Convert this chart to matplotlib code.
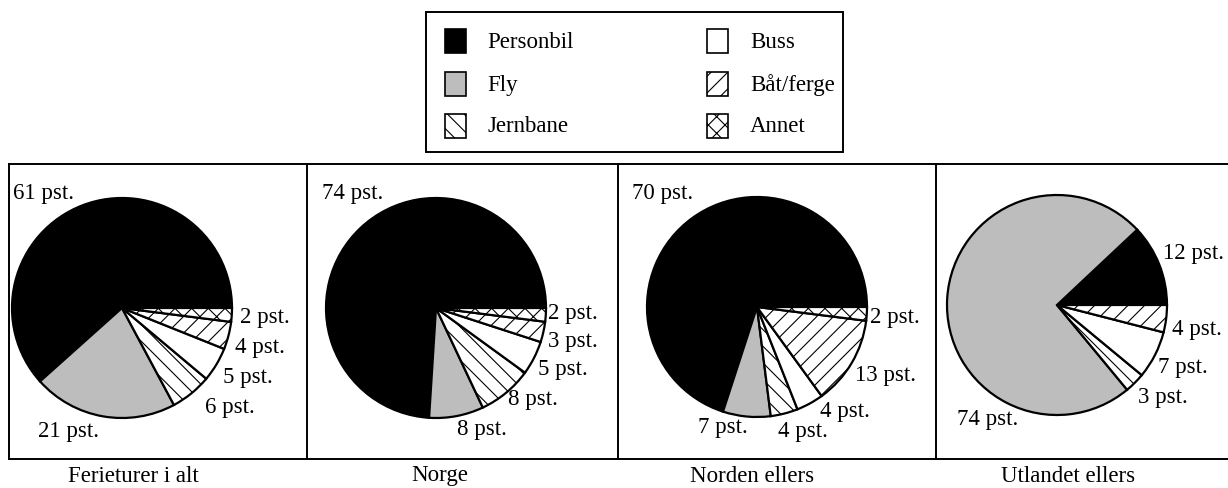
import matplotlib
matplotlib.use("Agg")
import matplotlib.pyplot as plt
from matplotlib.patches import Rectangle

# ---- data ----
categories = ['Personbil', 'Fly', 'Jernbane', 'Buss', 'Båt/ferge', 'Annet']
panel_titles = ['Ferieturer i alt', 'Norge', 'Norden ellers', 'Utlandet ellers']
ferie_alt = [61, 21, 6, 5, 4, 2]
norge = [74, 8, 8, 5, 3, 2]
norden_ellers = [70, 7, 4, 4, 13, 2]
utlandet_ellers = [12, 74, 3, 7, 4, 0]

# ---- styles ----
faces = ['black', '#bdbdbd', 'white', 'white', 'white', 'white']
hatches = [None, None, '\\\\', None, '//', 'xx']

plt.rcParams['font.family'] = ['Liberation Serif', 'DejaVu Serif']
plt.rcParams['hatch.linewidth'] = 0.8
FS = 16.5

W, H = 1228, 489
fig = plt.figure(figsize=(W / 100, H / 100), dpi=100)
ax = fig.add_axes([0, 0, 1, 1])

# layout (pixels)
centers = [(122, 309), (436, 309), (757, 308), (1057, 306)]
R = 110
title_x = [133, 440, 752, 1068]
label_pos = [
    [(13, 193), (38, 432), (205, 407), (223, 378), (235, 347), (240, 318)],
    [(322, 193), (457, 430), (508, 400), (538, 370), (548, 342), (548, 313)],
    [(632, 193), (698, 427), (778, 432), (820, 412), (855, 375), (870, 318)],
    [(1163, 253), (957, 420), (1138, 397), (1158, 368), (1172, 330), None],
]
panel_edges = [9, 307, 618, 936, 1228]
box_top, box_bot = 165, 460

all_values = [ferie_alt, norge, norden_ellers, utlandet_ellers]
for p, vals in enumerate(all_values):
    idx = [i for i, v in enumerate(vals) if v > 0]
    wedges, _ = ax.pie([vals[i] for i in idx], center=centers[p], radius=R,
                       startangle=0, counterclock=False, frame=True,
                       colors=[faces[i] for i in idx],
                       wedgeprops=dict(edgecolor='black', linewidth=1.6))
    for w, i in zip(wedges, idx):
        if hatches[i]:
            w.set_hatch(hatches[i])
    for i in idx:
        pos = label_pos[p][i]
        if pos is not None:
            ax.text(pos[0], pos[1], f"{vals[i]} pst.", fontsize=FS,
                    ha='left', va='center')
    ax.text(title_x[p], 476, panel_titles[p], fontsize=FS, ha='center', va='center')

# panel boxes
ax.plot([panel_edges[0], panel_edges[-1]], [box_top, box_top], color='black', lw=1.4)
ax.plot([panel_edges[0], panel_edges[-1]], [box_bot, box_bot], color='black', lw=1.4)
for x in panel_edges[:-1]:
    ax.plot([x, x], [box_top, box_bot], color='black', lw=1.4)

# legend
ax.add_patch(Rectangle((426, 13), 417, 140, fill=False, edgecolor='black', lw=1.4))
leg_cols = [(445, 487), (707, 750)]
leg_rows = [42, 85, 127]
for i, cat in enumerate(categories):
    c = i // 3
    r = i % 3
    mx, tx = leg_cols[c]
    y = leg_rows[r]
    ax.add_patch(Rectangle((mx, y - 12), 21, 24, facecolor=faces[i],
                           edgecolor='black', lw=1.2, hatch=hatches[i]))
    ax.text(tx, y, cat, fontsize=FS, ha='left', va='center')

ax.set_xlim(0, W)
ax.set_ylim(H, 0)
ax.set_aspect('equal')
ax.axis('off')
fig.savefig('out.png', dpi=100)
